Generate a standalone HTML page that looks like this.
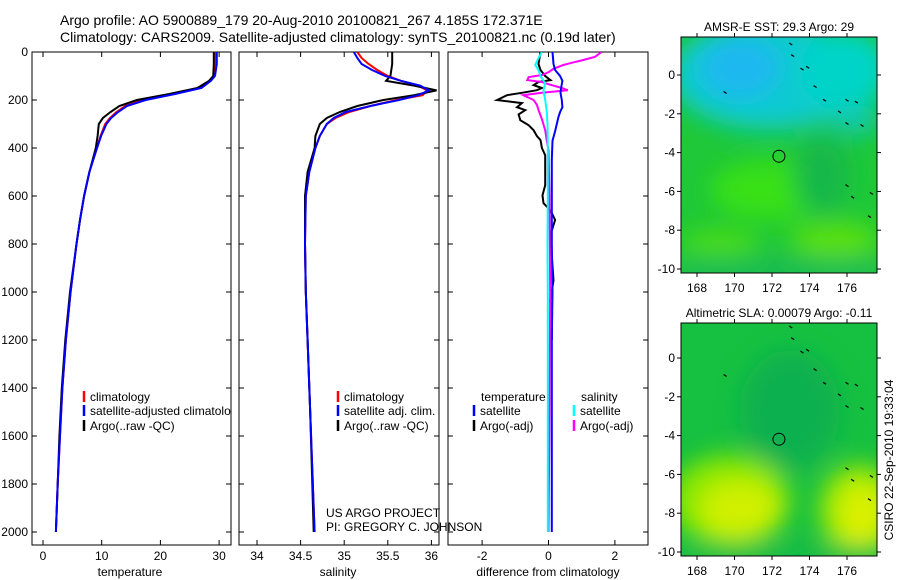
<!DOCTYPE html>
<html><head><meta charset="utf-8"><style>
html,body{margin:0;padding:0;background:#fff;}
svg{display:block;font-family:"Liberation Sans",sans-serif;}
</style></head><body>
<svg id="fig" width="900" height="580" viewBox="0 0 900 580" xmlns="http://www.w3.org/2000/svg">
<defs>
<filter id="blur8" x="-50%" y="-50%" width="200%" height="200%"><feGaussianBlur stdDeviation="12"/></filter>
<clipPath id="clipTop"><rect x="681" y="37" width="196" height="236"/></clipPath>
<clipPath id="clipBot"><rect x="681" y="323" width="196" height="233"/></clipPath>
<clipPath id="clipP1"><rect x="32" y="52" width="199" height="493"/></clipPath>
<clipPath id="clipP2"><rect x="239" y="52" width="200" height="493"/></clipPath>
<clipPath id="clipP3"><rect x="448" y="52" width="200" height="493"/></clipPath>
</defs>
<text x="60" y="25" font-size="14">Argo profile: AO 5900889_179 20-Aug-2010 20100821_267 4.185S 172.371E</text>
<text x="60" y="42" font-size="14">Climatology: CARS2009. Satellite-adjusted climatology: synTS_20100821.nc (0.19d later)</text>
<g id="plots"></g>
<g id="maps">
 <g clip-path="url(#clipTop)">
  <rect x="681" y="37" width="196" height="236" fill="#1ec838"/>
  <g filter="url(#blur8)">
   <ellipse cx="770" cy="75" rx="100" ry="55" fill="#10cad0"/>
   <ellipse cx="740" cy="68" rx="40" ry="30" fill="#1ab8f0"/>
   <ellipse cx="845" cy="70" rx="45" ry="40" fill="#06d4c8"/>
   <ellipse cx="855" cy="120" rx="25" ry="15" fill="#08c8b0"/>
   <ellipse cx="770" cy="190" rx="60" ry="30" fill="#38e016"/>
   <ellipse cx="835" cy="240" rx="45" ry="18" fill="#5ae010"/>
   <ellipse cx="720" cy="243" rx="40" ry="14" fill="#48dc14"/>
   <rect x="681" y="260" width="196" height="20" fill="#14b85a"/>
   <ellipse cx="822" cy="175" rx="28" ry="40" fill="#12b848"/>
  </g>
 </g>
 <rect x="681" y="37" width="196" height="236" fill="none" stroke="#000" stroke-width="1"/>
 <g clip-path="url(#clipBot)">
  <rect x="681" y="323" width="196" height="233" fill="#16c040"/>
  <g filter="url(#blur8)">
   <ellipse cx="790" cy="410" rx="50" ry="60" fill="#0eb050"/>
   <ellipse cx="730" cy="500" rx="60" ry="45" fill="#8ce800"/>
   <ellipse cx="740" cy="510" rx="40" ry="30" fill="#d0f000"/>
   <ellipse cx="860" cy="510" rx="40" ry="45" fill="#a8ec00"/>
   <ellipse cx="862" cy="515" rx="22" ry="30" fill="#dcf000"/>
   <rect x="681" y="548" width="196" height="12" fill="#10b84c"/>
  </g>
 </g>
 <rect x="681" y="323" width="196" height="233" fill="none" stroke="#000" stroke-width="1"/>
 <text x="779" y="31" font-size="12" text-anchor="middle">AMSR-E SST: 29.3 Argo: 29</text>
 <text x="779" y="317" font-size="12" text-anchor="middle">Altimetric SLA: 0.00079 Argo: -0.11</text>
 <text transform="translate(893,460) rotate(-90)" font-size="12" text-anchor="middle">CSIRO 22-Sep-2010 19:33:04</text>
</g>
</svg>
<script>
// ---------- Data ----------
const depthTicks = [0,200,400,600,800,1000,1200,1400,1600,1800,2000];
const tempTicks = [0,10,20,30];
const salTicks = [34,34.5,35,35.5,36];
const diffTicks = [-2,0,2];
const lonTicks = [168,170,172,174,176];
const latTicks = [0,-2,-4,-6,-8,-10];

const tDepth = [0,50,100,120,150,175,200,225,250,275,300,350,400,500,600,700,800,1000,1200,1400,1600,1800,2000];
const tClim  = [29.4,29.4,29.1,28.4,26.5,22,17,14,12.5,11.4,10.6,9.8,9.2,7.9,7.0,6.3,5.7,4.7,3.9,3.3,2.9,2.5,2.2];
const tSat   = [29.6,29.6,29.3,28.6,27,22.5,17.5,14.3,12.8,11.6,10.8,9.9,9.2,7.9,7.0,6.3,5.7,4.7,3.9,3.3,2.9,2.5,2.2];
const tArgo  = [29.1,29.1,29.0,28.3,26.3,21.5,16,13,11.5,10.2,9.5,9.3,9.0,7.9,7.0,6.3,5.7,4.6,3.8,3.2,2.8,2.5,2.2];

const sDepth = [0,25,50,75,100,120,140,160,180,200,225,250,275,300,350,400,500,600,800,1000,1200,1500,2000];
const sClim  = [35.15,35.2,35.28,35.38,35.5,35.65,35.85,35.95,35.9,35.6,35.3,35.06,34.9,34.8,34.72,34.67,34.6,34.56,34.55,34.56,34.58,34.61,34.66];
const sSat   = [35.11,35.15,35.2,35.32,35.47,35.65,35.87,35.97,35.85,35.63,35.3,35.02,34.88,34.8,34.72,34.67,34.6,34.56,34.55,34.56,34.58,34.61,34.66];
const sArgo  = [35.55,35.55,35.55,35.54,35.53,35.48,35.8,36.06,35.8,35.45,35.15,34.95,34.8,34.72,34.67,34.66,34.58,34.55,34.55,34.56,34.58,34.61,34.65];

const dtArgoDepth = [0,50,75,100,117,125,138,150,159,170,180,190,200,213,230,242,260,284,305,326,350,367,400,430,500,555,597,630,660,700,765,850,952,1035,1100,1200];
const dtArgo = [-0.24,-0.3,-0.24,-0.1,0.06,-0.3,-0.45,-0.2,-0.35,-0.8,-1.25,-1.4,-1.55,-0.8,-0.95,-0.7,-0.9,-0.85,-0.6,-0.45,-0.35,-0.24,-0.2,-0.1,-0.1,-0.1,-0.18,-0.15,0.06,0.2,0.05,0.1,0.15,0.05,0.1,0.1];
const dtSatDepth = [0,50,75,100,120,150,170,200,230,250,270,300,330,370,450,600,800,1000,1200,1500,1800,2000];
const dtSat = [0.12,0.15,0.2,0.35,0.42,0.38,0.36,0.4,0.42,0.35,0.3,0.25,0.2,0.12,0.1,0.1,0.1,0.12,0.1,0.1,0.1,0.1];
const dsSatDepth = [0,25,54,75,100,130,160,200,250,300,400,600,800,1000,1500,2000];
const dsSat = [-0.2,-0.3,-0.4,-0.3,-0.24,-0.1,-0.15,-0.1,-0.05,-0.03,-0.02,-0.02,-0.03,-0.02,-0.02,-0.02];
const dsArgoDepth = [0,20,33,45,54,70,84,96,105,117,125,134,150,159,170,180,190,200,220,242,280,326,370,409,600,1000,1500,2000];
const dsArgo = [1.6,1.4,1.06,0.7,0.45,0.15,0,-0.2,-0.6,-0.64,-0.2,0.0,0.4,0.58,-0.2,-0.76,-0.6,-0.45,-0.35,-0.3,-0.2,-0.1,-0.05,0,0.03,0.05,0.03,0.0];

const floatLon = [172.37];
const floatLat = [-4.185];

// ---------- Scales ----------
const yD = d => 52 + d*0.24;
const xT = v => 43 + v*5.87;
const xS = v => 257 + (v-34)*87.2;
const xDf = v => 548.5 + v*33.2;
const xLon = v => 697 + (v-168)*18.75;
const yLatTop = v => 75 - v*19.4;
const yLatBot = v => 358 - v*19.4;

const NS = "http://www.w3.org/2000/svg";
const plots = document.getElementById('plots');
const maps = document.getElementById('maps');
function mk(tag, attrs, parent, text){
  const e = document.createElementNS(NS, tag);
  for (const k in attrs) e.setAttribute(k, attrs[k]);
  if (text !== undefined) e.textContent = text;
  (parent||plots).appendChild(e);
  return e;
}
function line(depths, vals, xf, color, clip, name, w){
  const pts = depths.map((d,i)=> xf(vals[i]).toFixed(1)+','+yD(d).toFixed(1)).join(' ');
  const el = mk('polyline', {points:pts, fill:'none', stroke:color, 'stroke-width':w||2, 'clip-path':'url(#'+clip+')'});
  
  
}

const panels = [
  {x:32, w:199, clip:'clipP1', name:'temperature-panel', ticks:tempTicks, xf:xT, label:'temperature', lx:130},
  {x:239, w:200, clip:'clipP2', name:'salinity-panel', ticks:salTicks, xf:xS, label:'salinity', lx:338},
  {x:448, w:200, clip:'clipP3', name:'difference-panel', ticks:diffTicks, xf:xDf, label:'difference from climatology', lx:548}
];
panels.forEach((p, pi) => {
  const fr = mk('rect', {x:p.x, y:52, width:p.w, height:493, fill:'none', stroke:'#000', 'stroke-width':1});
  
  
  p.ticks.forEach(t => {
    const x = p.xf(t);
    mk('line', {x1:x, x2:x, y1:545, y2:540, stroke:'#000'});
    mk('line', {x1:x, x2:x, y1:52, y2:57, stroke:'#000'});
    const tl = mk('text', {x:x, y:560, 'font-size':12, 'text-anchor':'middle'}, plots, String(t));
    
    
  });
  depthTicks.forEach(d => {
    const y = yD(d);
    mk('line', {x1:p.x, x2:p.x+5, y1:y, y2:y, stroke:'#000'});
    mk('line', {x1:p.x+p.w, x2:p.x+p.w-5, y1:y, y2:y, stroke:'#000'});
    if (pi === 0) {
      const yl = mk('text', {x:28, y:y+4, 'font-size':12, 'text-anchor':'end'}, plots, String(d));
      
      
    }
  });
  const al = mk('text', {x:p.lx, y:576, 'font-size':12, 'text-anchor':'middle'}, plots, p.label);
  
  
});

line(tDepth, tClim, xT, '#ff0000', 'clipP1', 'temp-climatology-line');
line(tDepth, tArgo, xT, '#000000', 'clipP1', 'temp-argo-line');
line(tDepth, tSat, xT, '#0000ff', 'clipP1', 'temp-satellite-line');
line(sDepth, sClim, xS, '#ff0000', 'clipP2', 'sal-climatology-line');
line(sDepth, sArgo, xS, '#000000', 'clipP2', 'sal-argo-line');
line(sDepth, sSat, xS, '#0000ff', 'clipP2', 'sal-satellite-line');
line(dtArgoDepth, dtArgo, xDf, '#000000', 'clipP3', 'temp-diff-argo-line');
line(dsArgoDepth, dsArgo, xDf, '#ff00ff', 'clipP3', 'sal-diff-argo-line');
line(dtSatDepth, dtSat, xDf, '#0000ff', 'clipP3', 'temp-diff-satellite-line');
line(dsSatDepth, dsSat, xDf, '#00ffff', 'clipP3', 'sal-diff-satellite-line');

function legend(x, y, color, text, name, clip){
  mk('line', {x1:x, x2:x, y1:y-6, y2:y+5, stroke:color, 'stroke-width':2.5});
  const t = mk('text', {x:x+6, y:y+4, 'font-size':12}, plots, text);
  if (clip) t.setAttribute('clip-path', 'url(#'+clip+')');
  
  
}
legend(84, 397, '#ff0000', 'climatology', 'legend-entry-climatology');
legend(84, 411, '#0000ff', 'satellite-adjusted climatology', 'legend-entry-satellite-adjusted', 'clipP1');
legend(84, 426, '#000000', 'Argo(..raw -QC)', 'legend-entry-argo');
legend(338, 397, '#ff0000', 'climatology', 'legend-entry-climatology-sal');
legend(338, 411, '#0000ff', 'satellite adj. clim.', 'legend-entry-satellite-sal');
legend(338, 426, '#000000', 'Argo(..raw -QC)', 'legend-entry-argo-sal');
let h1 = mk('text', {x:481, y:401, 'font-size':12}, plots, 'temperature');


let h2 = mk('text', {x:581, y:401, 'font-size':12}, plots, 'salinity');


legend(474, 411, '#0000ff', 'satellite', 'legend-entry-temp-satellite');
legend(474, 426, '#000000', 'Argo(-adj)', 'legend-entry-temp-argo');
legend(574, 411, '#00ffff', 'satellite', 'legend-entry-sal-satellite');
legend(574, 426, '#ff00ff', 'Argo(-adj)', 'legend-entry-sal-argo');
let c1 = mk('text', {x:326, y:517, 'font-size':12}, plots, 'US ARGO PROJECT');


let c2 = mk('text', {x:326, y:531, 'font-size':12}, plots, 'PI: GREGORY C. JOHNSON');



[[37,273,yLatTop,'sst'],[323,556,yLatBot,'sla']].forEach(([top,bot,yf,nm]) => {
  lonTicks.forEach(l => {
    const x = xLon(l);
    mk('line', {x1:x, x2:x, y1:bot, y2:bot+4, stroke:'#000'}, maps);
    mk('line', {x1:x, x2:x, y1:top, y2:top-4, stroke:'#000'}, maps);
    const t = mk('text', {x:x, y:bot+19, 'font-size':12, 'text-anchor':'middle'}, maps, String(l));
    
    
  });
  latTicks.forEach(la => {
    const y = yf(la);
    mk('line', {x1:681, x2:677, y1:y, y2:y, stroke:'#000'}, maps);
    mk('line', {x1:877, x2:881, y1:y, y2:y, stroke:'#000'}, maps);
    const t = mk('text', {x:675, y:y+4, 'font-size':12, 'text-anchor':'end'}, maps, String(la));
    
    
  });
  [[173,1.6],[173.1,1.0],[173.6,0.3],[173.9,0.4],[174.3,-0.6],[174.8,-1.3],[175.6,-1.9],[176,-1.3],[176.5,-1.4],[169.5,-0.9],[176,-2.5],[176.8,-2.6],[176,-5.7],[176.3,-6.3],[177.2,-7.3],[177.3,-6.1]].forEach(([lo,la]) => {
    mk('line', {x1:xLon(lo)-1.5, x2:xLon(lo)+1.5, y1:yf(la)-1, y2:yf(la)+1, stroke:'#000', 'stroke-width':1.2}, maps);
  });
  floatLon.forEach((lo,i) => {
    const c = mk('circle', {cx:xLon(lo), cy:yf(floatLat[i]), r:6, fill:'none', stroke:'#000', 'stroke-width':1}, maps);
    
    
  });
});
</script>
</body></html>
